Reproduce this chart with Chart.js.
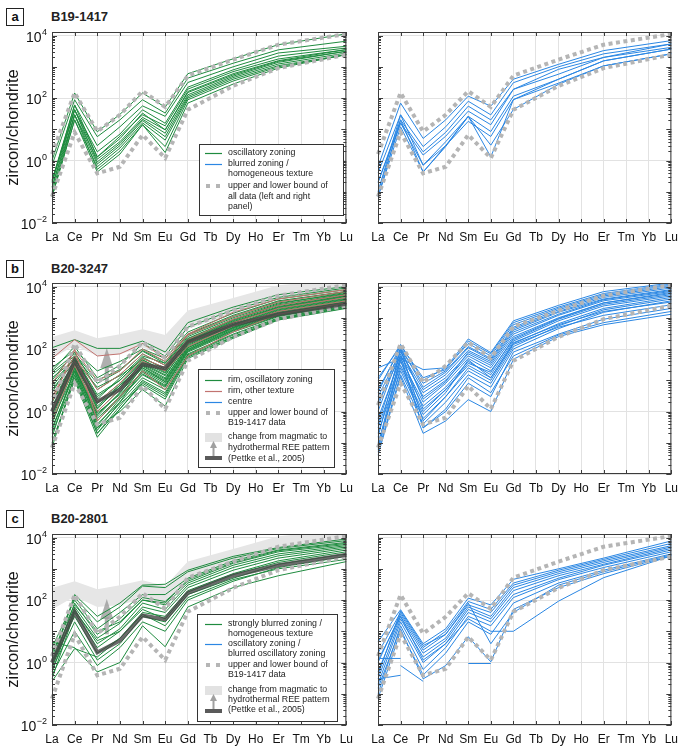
<!DOCTYPE html>
<html>
<head>
<meta charset="utf-8">
<script src="https://cdn.jsdelivr.net/npm/chart.js@4.4.1/dist/chart.umd.min.js"></script>
<style>
  body { margin: 0; background: #fff; font-family: "Liberation Sans", Arial, sans-serif; }
  #fig { position: relative; width: 685px; height: 752px; overflow: hidden; }
  canvas { position: absolute; }
  .tag { position: absolute; left: 6px; width: 16px; height: 16px; border: 1.5px solid #222;
         font-weight: bold; font-size: 13px; line-height: 16px; text-align: center; color: #111; }
  .ttl { position: absolute; left: 51px; font-weight: bold; font-size: 13px; color: #222; }
</style>
</head>
<body>
<div id="fig">
  <div class="tag" style="top:8px">a</div><div class="ttl" style="top:9px">B19-1417</div>
  <div class="tag" style="top:260px">b</div><div class="ttl" style="top:261px">B20-3247</div>
  <div class="tag" style="top:510px">c</div><div class="ttl" style="top:511px">B20-2801</div>
</div>
<script>
// REE order on the x axis
const ree = ["La", "Ce", "Pr", "Nd", "Sm", "Eu", "Gd", "Tb", "Dy", "Ho", "Er", "Tm", "Yb", "Lu"];
// elements actually plotted for each pattern
const measured = ["La", "Ce", "Pr", "Nd", "Sm", "Eu", "Gd", "Dy", "Er", "Lu"];
const yTicks = [0.01, 1, 100, 10000];

// B19-1417 envelope (dotted grey)
const upperBound = [1.6, 148, 8.5, 29, 166, 52, 520, 1700, 5100, 11200];
const lowerBound = [0.07, 8, 0.39, 0.63, 6.6, 1.2, 42, 245, 910, 2450];
// magmatic -> hydrothermal (Pettke et al., 2005)
const bandTop = [245, 400, 220, 300, 430, 280, 1700, 4300, 11000, 18000];
const bandBottom = [50, 130, 60, 70, 110, 70, 450, 1300, 4000, 7000];
const magmatic = [1, 42, 2.1, 5, 32, 24, 170, 600, 1300, 2800];
const arrowRange = [8, 107];

// a: B19-1417
const aOscillatory = [
  [1.0, 145, 8.3, 30, 145, 51, 600, 1800, 5100, 11300],
  [0.7, 88, 5.8, 20, 88, 33, 435, 1300, 3500, 6600],
  [0.23, 60, 3.0, 12, 56, 26, 315, 1000, 2770, 4540],
  [0.14, 42, 1.9, 7, 42, 15.6, 223, 800, 2200, 4000],
  [0.2, 60, 1.3, 6, 29, 12.9, 193, 700, 1780, 3550],
  [0.07, 29, 1.1, 4, 24, 9.6, 162, 600, 1570, 3550],
  [0.23, 42, 0.9, 3.5, 21, 7.5, 127, 500, 1390, 3140],
  [0.14, 29, 0.77, 3, 19, 5.8, 112, 450, 1230, 2770],
  [0.07, 20, 0.63, 2.5, 16, 4.5, 100, 400, 1090, 2450],
  [0.1, 29, 0.52, 2, 14, 2.8, 88, 350, 1000, 2450],
  [0.07, 20, 0.43, 1.6, 14, 1.8, 69, 280, 910, 2450],
  [0.2, 42, 1.3, 5, 33, 9.6, 150, 550, 1500, 3140]
];
const aBlurred = [
  [0.63, 69, 5.1, 20, 115, 55, 400, 1200, 3300, 6900],
  [0.4, 29, 2.8, 12, 79, 29, 310, 1000, 2600, 5400],
  [0.2, 20, 1.9, 8, 55, 20, 190, 830, 2000, 5400],
  [0.2, 16, 1.5, 6, 38, 14, 190, 580, 2000, 4200],
  [0.1, 29, 0.71, 4, 26, 8.5, 115, 400, 1550, 3700],
  [0.068, 20, 0.43, 3, 18, 5.9, 89, 400, 1550, 3700],
  [0.068, 12, 0.43, 2.8, 26, 3.1, 43, 275, 1070, 2600],
  [0.1, 16, 0.71, 3, 26, 1.3, 89, 300, 1070, 2600]
];

// b: B20-3247
const bRimOscillatory = [
  [110, 200, 105, 105, 180, 80, 700, 2200, 5500, 10000],
  [20, 120, 12, 30, 150, 60, 500, 1800, 4500, 9000],
  [15, 60, 8, 20, 90, 40, 300, 1200, 3500, 7000],
  [10, 80, 5, 15, 70, 30, 250, 1000, 3000, 6000],
  [8, 50, 3, 10, 50, 25, 200, 800, 2500, 5500],
  [5, 40, 2, 8, 40, 20, 180, 700, 2000, 4500],
  [3, 35, 1.5, 6, 35, 15, 150, 600, 1800, 4000],
  [2, 30, 1.0, 5, 30, 12, 130, 550, 1600, 3500],
  [1.5, 25, 0.7, 4, 25, 10, 120, 500, 1400, 3200],
  [1, 20, 0.5, 3, 20, 8, 100, 450, 1300, 3000],
  [0.5, 18, 0.35, 2.5, 15, 6, 90, 400, 1200, 2800],
  [0.3, 15, 0.25, 2, 12, 5, 80, 350, 1100, 2600],
  [0.2, 12, 0.2, 1.5, 10, 4, 70, 300, 1000, 2400],
  [0.1, 10, 0.15, 1.2, 8, 3, 60, 250, 900, 2200],
  [0.07, 15, 0.3, 1.0, 5, 1.5, 50, 220, 850, 2000],
  [25, 90, 20, 40, 100, 50, 350, 1400, 4000, 8000],
  [4, 60, 2.5, 12, 60, 35, 220, 900, 2800, 6500],
  [12, 45, 6, 14, 45, 20, 170, 700, 2200, 5000],
  [0.8, 40, 1.2, 7, 25, 9, 110, 480, 1500, 3600],
  [2.5, 22, 0.9, 3.5, 18, 7, 95, 420, 1250, 2900],
  [0.15, 25, 0.4, 2, 22, 9, 110, 480, 1400, 3300],
  [0.4, 30, 0.6, 3, 28, 11, 140, 560, 1700, 3800],
  [0.6, 35, 0.8, 4, 32, 14, 160, 620, 1900, 4200],
  [1.2, 45, 1.3, 6, 38, 17, 190, 750, 2300, 5200],
  [6, 55, 3.5, 10, 55, 22, 210, 850, 2600, 5800],
  [0.1, 12, 0.2, 1.2, 9, 3.5, 65, 280, 950, 2300],
  [18, 70, 10, 22, 85, 35, 280, 1100, 3300, 6800],
  [0.25, 20, 0.3, 1.8, 7, 2.5, 55, 240, 880, 2100],
  [2, 40, 1.8, 7, 45, 18, 170, 700, 2100, 4800],
  [0.8, 28, 0.5, 2.8, 16, 6.5, 85, 380, 1150, 2700]
];
const bRimOther = [
  [50, 200, 60, 70, 150, 50, 300, 1500, 4000, 8000],
  [8, 90, 10, 20, 100, 40, 280, 1100, 3200, 7000],
  [3, 60, 5, 15, 70, 30, 200, 900, 2500, 5500],
  [1, 40, 2, 8, 50, 25, 150, 700, 2000, 4500],
  [0.5, 30, 1, 5, 40, 20, 120, 550, 1600, 3500],
  [2, 100, 0.5, 3, 20, 5, 60, 350, 1300, 3000]
];
const bCentre = [
  [25, 50, 22, 25, 210, 77, 800, 2500, 6900, 13000],
  [10, 140, 10, 25, 150, 60, 600, 2000, 5500, 11000],
  [5, 100, 8, 20, 120, 50, 500, 1800, 5000, 10000],
  [3, 80, 5, 15, 90, 40, 400, 1500, 4000, 8000],
  [2, 60, 4, 12, 70, 30, 300, 1200, 3500, 7000],
  [1, 90, 3, 10, 60, 25, 250, 1000, 3000, 6000],
  [0.6, 50, 2, 8, 50, 20, 200, 900, 2700, 5500],
  [0.3, 40, 1.5, 6, 40, 15, 180, 800, 2400, 5000],
  [0.2, 30, 1, 5, 30, 12, 150, 650, 2000, 4500],
  [0.1, 20, 0.6, 3, 20, 8, 120, 550, 1800, 4000],
  [0.05, 15, 0.4, 2, 15, 6, 100, 450, 1500, 3500],
  [0.04, 13, 0.2, 0.5, 2.4, 1, 47, 250, 600, 1300],
  [0.08, 60, 0.3, 1, 8, 3, 80, 300, 900, 2000],
  [0.15, 100, 0.5, 3, 25, 10, 140, 500, 1200, 2600],
  [12, 120, 6, 18, 110, 45, 450, 1600, 4500, 9000],
  [0.4, 70, 1.2, 5, 35, 18, 220, 950, 3000, 6500],
  [1.5, 110, 2.5, 9, 80, 35, 350, 1300, 3800, 7500],
  [0.07, 25, 0.8, 4, 45, 12, 160, 600, 1600, 3200],
  [0.06, 45, 0.3, 1.2, 12, 4, 60, 280, 700, 1600],
  [4, 130, 12, 22, 180, 70, 700, 2200, 6000, 12000]
];

// c: B20-2801
const cBlurred = [
  [1, 150, 30, 80, 300, 320, 900, 2500, 4800, 9000],
  [1.5, 120, 20, 60, 280, 250, 800, 2200, 4500, 8000],
  [3, 100, 12, 40, 150, 150, 500, 1800, 4000, 7000],
  [0.8, 80, 8, 25, 120, 90, 400, 1500, 3500, 6000],
  [1, 60, 6, 18, 100, 70, 350, 1300, 3000, 5500],
  [0.5, 50, 4, 12, 80, 50, 300, 1100, 2600, 5000],
  [0.3, 40, 3, 10, 60, 40, 250, 900, 2200, 4500],
  [1, 30, 2, 6, 40, 30, 200, 700, 1800, 4000],
  [0.6, 20, 1.2, 4, 30, 20, 150, 500, 1400, 3000],
  [0.4, 10, 0.8, 3, 20, 10, 100, 400, 1100, 2500],
  [4.5, 3, 0.5, 1, 15, 3.2, 60, 250, 600, 1700],
  [0.25, 2.8, 1.5, 6, 35, 15, 120, 450, 1000, 2000],
  [2, 70, 10, 20, 100, 80, 450, 1600, 3800, 6500],
  [0.7, 45, 5, 10, 50, 25, 180, 650, 1600, 3500]
];
const cOscillatory = [
  [4.6, 49, 4, 12, 115, 70, 460, 1000, 2200, 7800],
  [2, 40, 3, 10, 90, 50, 350, 900, 2000, 6500],
  [1, 35, 2.5, 8, 70, 40, 300, 800, 1800, 5500],
  [0.5, 30, 2, 6, 60, 30, 250, 700, 1600, 5000],
  [0.3, 25, 1.5, 5, 50, 25, 200, 600, 1400, 4500],
  [0.2, 20, 1, 4, 40, 20, 150, 500, 1300, 4000],
  [0.1, 15, 0.6, 3, 30, 15, 120, 450, 1100, 3500],
  [0.07, 10, 0.4, 2, 20, 8, 80, 350, 900, 3000],
  [0.15, 12, 0.3, 0.8, 6.7, 1.05, 50, 250, 700, 2600],
  [0.4, 45, 3.5, 8, 80, 4, 40, 300, 800, 2800],
  [1.2, 30, 1.2, 4, 25, 10, 10, 92, 520, 2600],
  [1.35, 1.35, null, null, null, null, null, null, null, null],
  [0.3, 0.39, null, null, null, null, null, null, null, null],
  [null, 0.8, 0.25, null, null, null, null, null, null, null],
  [null, null, null, null, 0.93, 0.93, null, null, null, null]
];

const GREEN = "#1f8b3f", BLUE = "#2b87e3", RED = "#c27370", DOTS = "#b5b5b5";
const FONT = '"Liberation Sans", Arial, sans-serif';

function pts(vals) {
  return measured.map((k, i) => ({ x: k, y: vals[i] }));
}
function lineSet(vals, color, width, order, extra) {
  return Object.assign({ data: pts(vals), borderColor: color, borderWidth: width, order: order,
    pointRadius: 0, fill: false, tension: 0 }, extra || {});
}
function boundSets() {
  return [upperBound, lowerBound].map(v => lineSet(v, DOTS, 4, 20, { borderDash: [4, 3.5] }));
}
function bandSets() {
  return [
    lineSet(bandTop, "rgba(0,0,0,0)", 0, 100, { fill: "+1", backgroundColor: "#e6e6e6" }),
    lineSet(bandBottom, "rgba(0,0,0,0)", 0, 100)
  ];
}

// frame, minor ticks, y labels, legend and arrow
const frame = {
  id: "frame",
  afterDatasetDraw(chart, args, o) {
    if (!o.arrow || args.index !== 0) return;
    const { ctx, scales: { x, y } } = chart;
    const px = x.getPixelForValue(o.arrow.at);
    const y0 = y.getPixelForValue(arrowRange[0]), y1 = y.getPixelForValue(arrowRange[1]);
    ctx.save();
    ctx.fillStyle = "rgba(155,155,155,0.8)";
    ctx.fillRect(px - 2, y1 + 18, 4, y0 - y1 - 18);
    ctx.beginPath();
    ctx.moveTo(px, y1); ctx.lineTo(px + 6.5, y1 + 20); ctx.lineTo(px - 6.5, y1 + 20); ctx.closePath();
    ctx.fill();
    ctx.restore();
  },
  afterDraw(chart, args, o) {
    const { ctx, chartArea: a, scales: { x, y } } = chart;
    ctx.save();
    ctx.strokeStyle = "#3c3c3c";
    ctx.lineWidth = 1;
    ctx.strokeRect(a.left + 0.5, a.top + 0.5, a.right - a.left - 1, a.bottom - a.top - 1);
    ctx.beginPath();
    for (let e = -2; e <= 4; e++) {
      for (let m = 1; m < 10; m++) {
        const v = m * Math.pow(10, e);
        if (v > y.max) break;
        const py = Math.round(y.getPixelForValue(v)) + 0.5;
        const len = m === 1 ? 5 : 3;
        ctx.moveTo(a.left, py); ctx.lineTo(a.left + len, py);
        ctx.moveTo(a.right, py); ctx.lineTo(a.right - len, py);
      }
    }
    x.ticks.forEach((t, i) => {
      const px = Math.round(x.getPixelForTick(i)) + 0.5;
      ctx.moveTo(px, a.top); ctx.lineTo(px, a.top + 4);
      ctx.moveTo(px, a.bottom); ctx.lineTo(px, a.bottom - 4);
    });
    ctx.stroke();

    if (o.yLabels) {
      ctx.fillStyle = "#111";
      ctx.textBaseline = "alphabetic";
      yTicks.forEach(v => {
        const py = y.getPixelForValue(v);
        const ex = String(Math.round(Math.log10(v))).replace("-", "\u2212");
        ctx.font = "9px " + FONT;
        const ew = ctx.measureText(ex).width;
        ctx.font = "14px " + FONT;
        const bw = ctx.measureText("10").width;
        const right = a.left - 5;
        ctx.fillText("10", right - ew - bw - 0.5, py + 6);
        ctx.font = "9px " + FONT;
        ctx.fillText(ex, right - ew, py - 1);
      });
    }

    if (o.legend) {
      const L = o.legend, ox = o.off[0], oy = o.off[1];
      const [x1, y1, x2, y2] = L.box;
      ctx.fillStyle = "#fff";
      ctx.fillRect(x1 - ox, y1 - oy, x2 - x1, y2 - y1);
      ctx.strokeStyle = "#333";
      ctx.strokeRect(x1 - ox + 0.5, y1 - oy + 0.5, x2 - x1, y2 - y1);
      ctx.font = "8.8px " + FONT;
      ctx.textBaseline = "middle";
      L.rows.forEach(r => {
        const ry = r.y - oy, sx = 205 - ox;
        ctx.fillStyle = "#222";
        ctx.fillText(r.t, 228 - ox, ry);
        if (!r.sym) return;
        if (r.sym === "dots") {
          ctx.fillStyle = DOTS;
          ctx.fillRect(sx + 1, ry - 2, 4, 4);
          ctx.fillRect(sx + 11, ry - 2, 4, 4);
        } else if (r.sym === "change") {
          ctx.fillStyle = "#e2e2e2";
          ctx.fillRect(sx, ry - 4, 17, 9);
          ctx.fillStyle = "#a0a0a0";
          ctx.fillRect(sx + 7.5, ry + 10, 2, 10);
          ctx.beginPath();
          ctx.moveTo(sx + 8.5, ry + 4); ctx.lineTo(sx + 12, ry + 11); ctx.lineTo(sx + 5, ry + 11); ctx.closePath();
          ctx.fill();
          ctx.fillStyle = "#5a5a5a";
          ctx.fillRect(sx, ry + 19, 17, 4);
        } else {
          ctx.strokeStyle = r.sym;
          ctx.lineWidth = 1.2;
          ctx.beginPath(); ctx.moveTo(sx, ry + 0.5); ctx.lineTo(sx + 17, ry + 0.5); ctx.stroke();
          ctx.strokeStyle = "#333"; ctx.lineWidth = 1;
        }
      });
    }
    ctx.restore();
  }
};

const legendA = { box: [199, 144, 343, 215], rows: [
  { t: "oscillatory zoning", y: 153, sym: GREEN },
  { t: "blurred zoning /", y: 164, sym: BLUE },
  { t: "homogeneous texture", y: 174 },
  { t: "upper and lower bound of", y: 186, sym: "dots" },
  { t: "all data (left and right", y: 197 },
  { t: "panel)", y: 207 }
]};
const legendB = { box: [198, 369, 334, 467], rows: [
  { t: "rim, oscillatory zoning", y: 380, sym: GREEN },
  { t: "rim, other texture", y: 391, sym: RED },
  { t: "centre", y: 402, sym: BLUE },
  { t: "upper and lower bound of", y: 413, sym: "dots" },
  { t: "B19-1417 data", y: 423 },
  { t: "change from magmatic to", y: 437, sym: "change" },
  { t: "hydrothermal REE pattern", y: 448 },
  { t: "(Pettke et al., 2005)", y: 459 }
]};
const legendC = { box: [197, 614, 337, 721], rows: [
  { t: "strongly blurred zoning /", y: 624, sym: GREEN },
  { t: "homogeneous texture", y: 634 },
  { t: "oscillatory zoning /", y: 644, sym: BLUE },
  { t: "blurred oscillatory zoning", y: 654 },
  { t: "upper and lower bound of", y: 665, sym: "dots" },
  { t: "B19-1417 data", y: 675 },
  { t: "change from magmatic to", y: 690, sym: "change" },
  { t: "hydrothermal REE pattern", y: 700 },
  { t: "(Pettke et al., 2005)", y: 710 }
]};

const magmaticSet = () => lineSet(magmatic, "rgba(70,70,70,0.8)", 4, 10);

const panels = [
  { top: 32, left: true, legend: legendA,
    sets: () => [...boundSets(), ...aOscillatory.map(v => lineSet(v, GREEN, 1, 50))] },
  { top: 32, left: false,
    sets: () => [...boundSets(), ...aBlurred.map(v => lineSet(v, BLUE, 1, 50))] },
  { top: 283, left: true, legend: legendB, arrow: { at: 2.42 },
    sets: () => [...bandSets(), ...boundSets(), magmaticSet(),
      ...bRimOther.map(v => lineSet(v, RED, 1, 40)),
      ...bRimOscillatory.map(v => lineSet(v, GREEN, 1, 50))] },
  { top: 283, left: false,
    sets: () => [...boundSets(), ...bCentre.map(v => lineSet(v, BLUE, 1, 50))] },
  { top: 534, left: true, legend: legendC, arrow: { at: 2.42 },
    sets: () => [...bandSets(), ...boundSets(), magmaticSet(),
      ...cBlurred.map(v => lineSet(v, GREEN, 1, 50))] },
  { top: 534, left: false,
    sets: () => [...boundSets(), ...cOscillatory.map(v => lineSet(v, BLUE, 1, 50))] }
];

const fig = document.getElementById("fig");
panels.forEach(p => {
  const cv = document.createElement("canvas");
  const cx = p.left ? 0 : 345, cy = p.top - 6;
  const w = p.left ? 360 : 340, h = 222;
  cv.width = w; cv.height = h;
  cv.style.left = cx + "px"; cv.style.top = cy + "px";
  cv.style.width = w + "px"; cv.style.height = h + "px";
  fig.appendChild(cv);

  new Chart(cv, {
    type: "line",
    data: { labels: ree, datasets: p.sets() },
    plugins: [frame],
    options: {
      responsive: false,
      animation: false,
      devicePixelRatio: 1,
      spanGaps: false,
      layout: { padding: { top: 6, right: p.left ? 12 : 10, left: 0, bottom: 0 } },
      plugins: {
        legend: { display: false },
        tooltip: { enabled: false },
        frame: { yLabels: p.left, legend: p.legend, arrow: p.arrow, off: [cx, cy] }
      },
      scales: {
        x: {
          type: "category",
          offset: false,
          grid: { color: "#e2e2e2", drawTicks: false },
          border: { display: false },
          ticks: { color: "#111", font: { family: FONT, size: 12 }, padding: 7,
                   autoSkip: false, maxRotation: 0 },
          afterFit: s => { s.height = 25; }
        },
        y: {
          type: "logarithmic",
          min: 0.01,
          max: 13000,
          grid: { color: "#e2e2e2", drawTicks: false },
          border: { display: false },
          ticks: { display: false },
          afterBuildTicks: s => { s.ticks = yTicks.map(v => ({ value: v })); },
          title: { display: p.left, text: "zircon/chondrite", color: "#111",
                   font: { family: FONT, size: 16.5 }, padding: { top: 4, bottom: 0 } },
          afterFit: s => { s.width = p.left ? 52 : 33; }
        }
      }
    }
  });
});
</script>
</body>
</html>
